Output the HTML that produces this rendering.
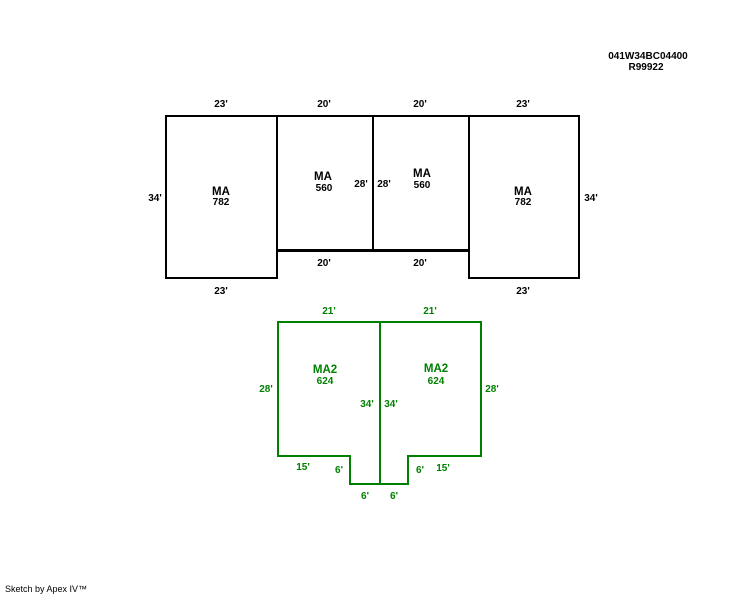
<!DOCTYPE html>
<html><head><style>
body{margin:0;background:#fff;}
svg text{font-family:"Liberation Sans",sans-serif;font-weight:bold;font-size:10px;}
svg text.l{font-size:11.5px;}
</style></head><body>
<svg width="744" height="595" xmlns="http://www.w3.org/2000/svg">
<text x="648" y="59" text-anchor="middle">041W34BC04400</text>
<text x="646" y="70" text-anchor="middle">R99922</text>
<g fill="none" stroke="#000" stroke-width="2">
<rect x="166" y="116" width="111" height="162"/>
<rect x="469" y="116" width="110" height="162"/>
<path d="M277 116H469M277 250H469M373 116V250"/>
<path d="M277 250.5H469" stroke-width="3"/>
</g>
<g text-anchor="middle">
<text x="221" y="107">23'</text><text x="324" y="107">20'</text><text x="420" y="107">20'</text><text x="523" y="107">23'</text>
<text x="221" y="294">23'</text><text x="523" y="294">23'</text>
<text x="324" y="266">20'</text><text x="420" y="266">20'</text>
<text x="155" y="201">34'</text><text x="591" y="201">34'</text>
<text x="361" y="187">28'</text><text x="384" y="187">28'</text>
<text class="l" x="221" y="195">MA</text><text x="221" y="205">782</text>
<text class="l" x="523" y="195">MA</text><text x="523" y="205">782</text>
<text class="l" x="323" y="180">MA</text><text x="324" y="191">560</text>
<text class="l" x="422" y="177">MA</text><text x="422" y="188">560</text>
</g>
<g fill="none" stroke="#008000" stroke-width="2">
<path d="M278 322H481V456H408V484H350V456H278Z"/>
<path d="M380 322V484"/>
</g>
<g text-anchor="middle" fill="#008000">
<text x="329" y="314">21'</text><text x="430" y="314">21'</text>
<text x="266" y="392">28'</text><text x="492" y="392">28'</text>
<text x="367" y="407">34'</text><text x="391" y="407">34'</text>
<text class="l" x="325" y="373">MA2</text><text x="325" y="384">624</text>
<text class="l" x="436" y="372">MA2</text><text x="436" y="384">624</text>
<text x="303" y="470">15'</text><text x="443" y="471">15'</text>
<text x="339" y="473">6'</text><text x="420" y="473">6'</text>
<text x="365" y="499">6'</text><text x="394" y="499">6'</text>
</g>
<text x="5" y="592" style="font-weight:normal;font-size:9px">Sketch by Apex IV™</text>
</svg>
</body></html>
